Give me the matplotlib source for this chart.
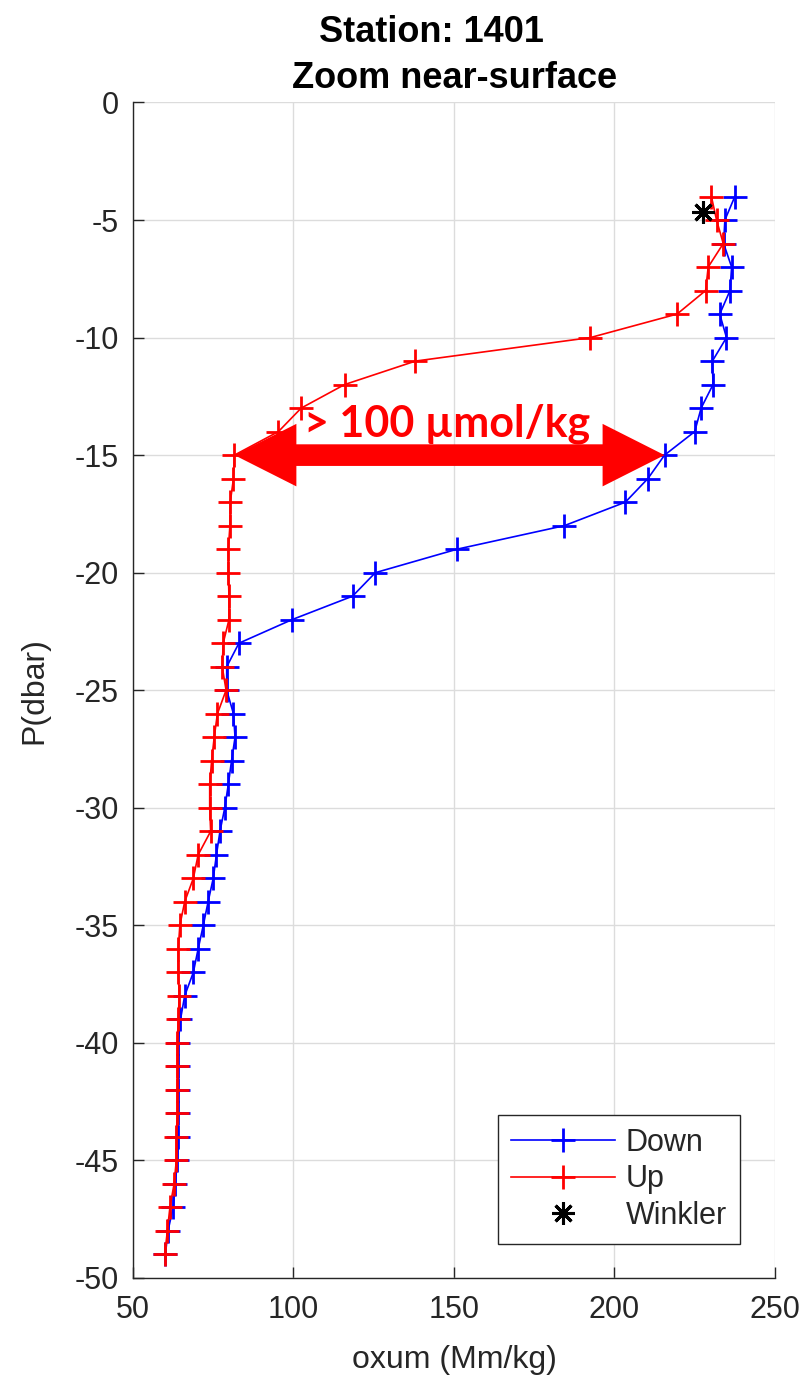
import matplotlib
matplotlib.use("Agg")
import matplotlib.pyplot as plt
from matplotlib.patches import Polygon

# Pressure levels (dbar, negative downward)
pressure = [-4, -5, -6, -7, -8, -9, -10, -11, -12, -13, -14, -15, -16, -17,
            -18, -19, -20, -21, -22, -23, -24, -25, -26, -27, -28, -29, -30,
            -31, -32, -33, -34, -35, -36, -37, -38, -39, -40, -41, -42, -43,
            -44, -45, -46, -47, -48, -49]

# Oxygen on the downcast
oxum_down = [237.5, 234.4, 234.0, 236.5, 236.0, 232.8, 234.9, 230.5, 230.7, 227.0,
             225.0, 215.6, 210.4, 203.4, 184.4, 151.0, 125.5, 118.4, 99.5, 83.0,
             79.2, 79.2, 81.3, 81.8, 80.7, 79.7, 78.6, 77.1, 76.0, 75.0,
             73.4, 71.9, 70.3, 68.8, 66.1, 64.8, 64.1, 64.1, 64.1, 64.1,
             64.1, 63.8, 63.2, 62.5, 60.9, 60.1]

# Oxygen on the upcast
oxum_up = [230.2, 231.8, 233.9, 229.2, 228.4, 219.5, 192.5, 138.0, 115.9, 102.4,
           95.3, 81.6, 81.3, 80.3, 80.2, 79.7, 79.7, 79.9, 79.9, 78.1,
           77.8, 79.0, 76.3, 75.3, 74.5, 73.9, 73.9, 74.2, 70.3, 68.8,
           66.1, 64.6, 64.1, 64.1, 64.4, 64.1, 63.8, 63.8, 63.8, 63.8,
           63.5, 63.5, 62.8, 61.5, 60.7, 59.9]

# Winkler bottle sample
winkler_ox = [227.6]
winkler_p = [-4.65]

x_ticks = [50, 100, 150, 200, 250]
y_ticks = [0, -5, -10, -15, -20, -25, -30, -35, -40, -45, -50]

arrow_level = -15
arrow_label = "> 100 \u00b5mol/kg"

plt.rcParams["font.family"] = ["Liberation Sans", "DejaVu Sans"]
plt.rcParams["axes.unicode_minus"] = False

fig = plt.figure(figsize=(8.07, 13.81), dpi=100)
ax = fig.add_axes([0.1648, 0.0746, 0.7955, 0.8512])

ax.set_xlim(50, 250)
ax.set_ylim(-50, 0)
ax.set_xticks(x_ticks)
ax.set_yticks(y_ticks)
ax.grid(True, color="#dcdcdc", linewidth=1.0)
ax.set_axisbelow(True)

for side in ("top", "right"):
    ax.spines[side].set_visible(False)
for side in ("left", "bottom"):
    ax.spines[side].set_color("#262626")
    ax.spines[side].set_linewidth(1.0)

ax.tick_params(direction="in", length=8, width=1.0, colors="#262626",
               labelsize=22, labelcolor="#262626")
ax.tick_params(axis="x", pad=12)
ax.tick_params(axis="y", pad=10)

mk = dict(marker="+", markersize=17, markeredgewidth=2.0)
ax.plot(oxum_down, pressure, color="#0000ff", linewidth=1.2, label="Down", **mk)
ax.plot(oxum_up, pressure, color="#ff0000", linewidth=1.2, label="Up", **mk)
ax.plot(winkler_ox, winkler_p, linestyle="none", marker=(8, 2, 0), color="black",
        markersize=16, markeredgewidth=2.2, label="Winkler")

# Double-headed arrow spanning the up/down difference at 15 dbar
i15 = pressure.index(arrow_level)
xl = oxum_up[i15]
xr = oxum_down[i15]
y0 = arrow_level
hl, hh, sh = 19.3, 1.33, 0.46
arrow_pts = [(xl, y0), (xl + hl, y0 + hh), (xl + hl, y0 + sh), (xr - hl, y0 + sh),
             (xr - hl, y0 + hh), (xr, y0), (xr - hl, y0 - hh), (xr - hl, y0 - sh),
             (xl + hl, y0 - sh), (xl + hl, y0 - hh)]
ax.add_patch(Polygon(arrow_pts, closed=True, facecolor="#ff0000",
                     edgecolor="none", zorder=5))
ax.text(103.4, -14.22, arrow_label, color="#ff0000", fontsize=31,
        fontweight="bold", family=["Lato", "DejaVu Sans"], va="baseline",
        ha="left", zorder=6)

ax.set_xlabel("oxum (Mm/kg)", fontsize=23, color="#262626", labelpad=15)
ax.set_ylabel("P(dbar)", fontsize=23, color="#262626", labelpad=18)

fig.text(431 / 807, 1 - 42 / 1381, "Station: 1401", fontsize=26, fontweight="bold",
         ha="center", va="baseline")
fig.text(455 / 807, 1 - 88 / 1381, "Zoom near-surface", fontsize=26,
         fontweight="bold", ha="center", va="baseline")

leg = ax.legend(loc="lower right", bbox_to_anchor=(0.9455, 0.029),
                borderaxespad=0, fontsize=22, handlelength=3.4,
                handletextpad=0.35, labelspacing=0.22, borderpad=0.42,
                fancybox=False, framealpha=1, edgecolor="#262626")
leg.get_frame().set_linewidth(1.0)
for t in leg.get_texts():
    t.set_color("#262626")

fig.savefig("out.png", dpi=100)
